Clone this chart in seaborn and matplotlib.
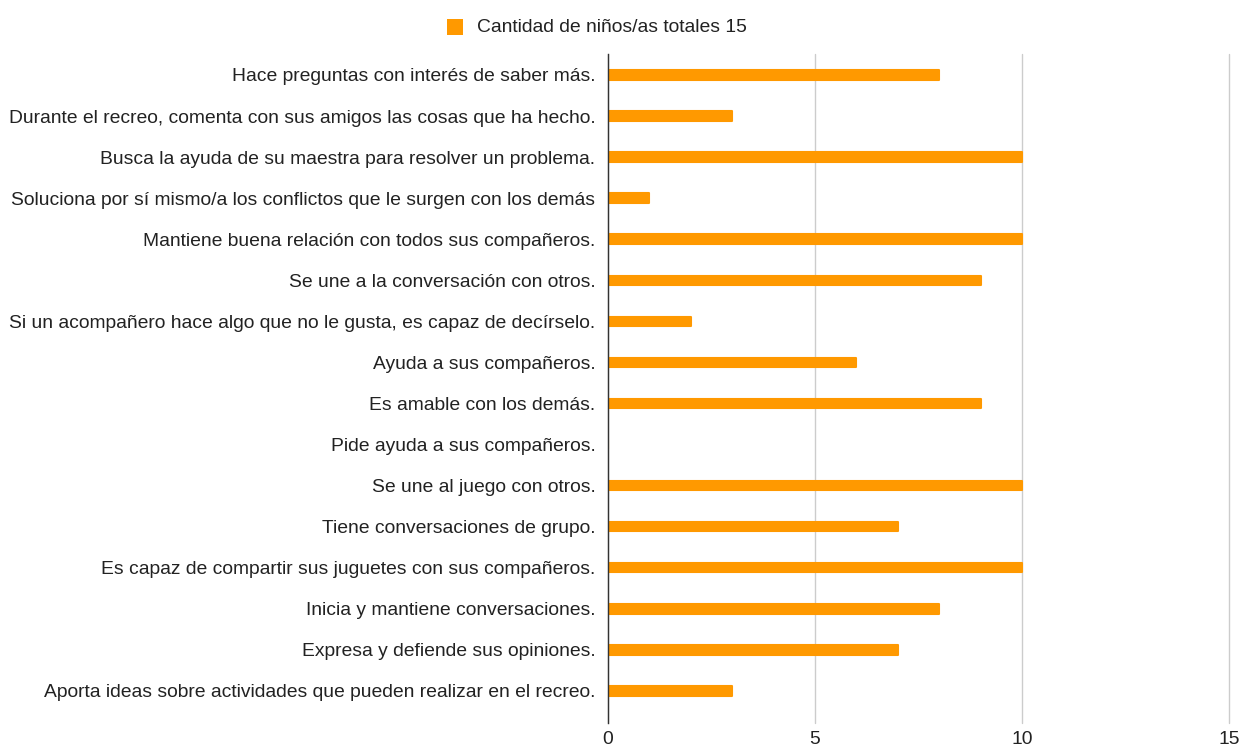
import matplotlib
matplotlib.use("Agg")
import matplotlib.pyplot as plt
import seaborn as sns
import pandas as pd

categories = [
    "Hace preguntas con interés de saber más.",
    "Durante el recreo, comenta con sus amigos las cosas que ha hecho.",
    "Busca la ayuda de su maestra para resolver un problema.",
    "Soluciona por sí mismo/a los conflictos que le surgen con los demás",
    "Mantiene buena relación con todos sus compañeros.",
    "Se une a la conversación con otros.",
    "Si un acompañero hace algo que no le gusta, es capaz de decírselo.",
    "Ayuda a sus compañeros.",
    "Es amable con los demás.",
    "Pide ayuda a sus compañeros.",
    "Se une al juego con otros.",
    "Tiene conversaciones de grupo.",
    "Es capaz de compartir sus juguetes con sus compañeros.",
    "Inicia y mantiene conversaciones.",
    "Expresa y defiende sus opiniones.",
    "Aporta ideas sobre actividades que pueden realizar en el recreo.",
]
values = [8, 3, 10, 1, 10, 9, 2, 6, 9, 0, 10, 7, 10, 8, 7, 3]
series_name = "Cantidad de niños/as totales 15"
x_ticks = [0, 5, 10, 15]

sns.set_theme(style="white")
plt.rcParams["font.family"] = ["Liberation Sans", "DejaVu Sans"]

df = pd.DataFrame({"cat": categories, "val": values})
color = "#FF9900"
fs = 13.9

fig = plt.figure(figsize=(12.4, 7.49), dpi=100)
ax = fig.add_axes([0.4903, 0.0347, 0.5008, 0.8932])

sns.barplot(data=df, y="cat", x="val", color=color, width=0.23,
            saturation=1, ax=ax, orient="h")
for p in ax.patches:
    p.set_edgecolor(color)
    p.set_linewidth(1.5)
    p.set_joinstyle("round")

ax.set_xlim(0, 15)
ax.set_ylim(15.78, -0.51)
ax.set_xticks(x_ticks)
ax.set_xticklabels([str(t) for t in x_ticks], fontsize=fs, color="#222222")
ax.tick_params(axis="y", labelsize=fs, labelcolor="#222222", length=0, pad=9)
ax.tick_params(axis="x", length=0, pad=6)
ax.set_xlabel("")
ax.set_ylabel("")
ax.xaxis.grid(True, color="#cccccc", linewidth=1)
for gl in ax.get_xgridlines():
    gl.set_clip_on(False)
ax.set_axisbelow(True)
for s in ["top", "right", "bottom"]:
    ax.spines[s].set_visible(False)
ax.spines["left"].set_color("#333333")
ax.spines["left"].set_linewidth(1)
ax.spines["left"].set_zorder(5)

# legend
fig.patches.append(matplotlib.patches.Rectangle((447 / 1240, 1 - 35 / 749), 16 / 1240, 16 / 749,
                                                transform=fig.transFigure, facecolor=color,
                                                edgecolor="none"))
fig.text(477 / 1240, 1 - 27 / 749, series_name, fontsize=fs, color="#222222", va="center", ha="left")

fig.savefig("out.png", dpi=100)
